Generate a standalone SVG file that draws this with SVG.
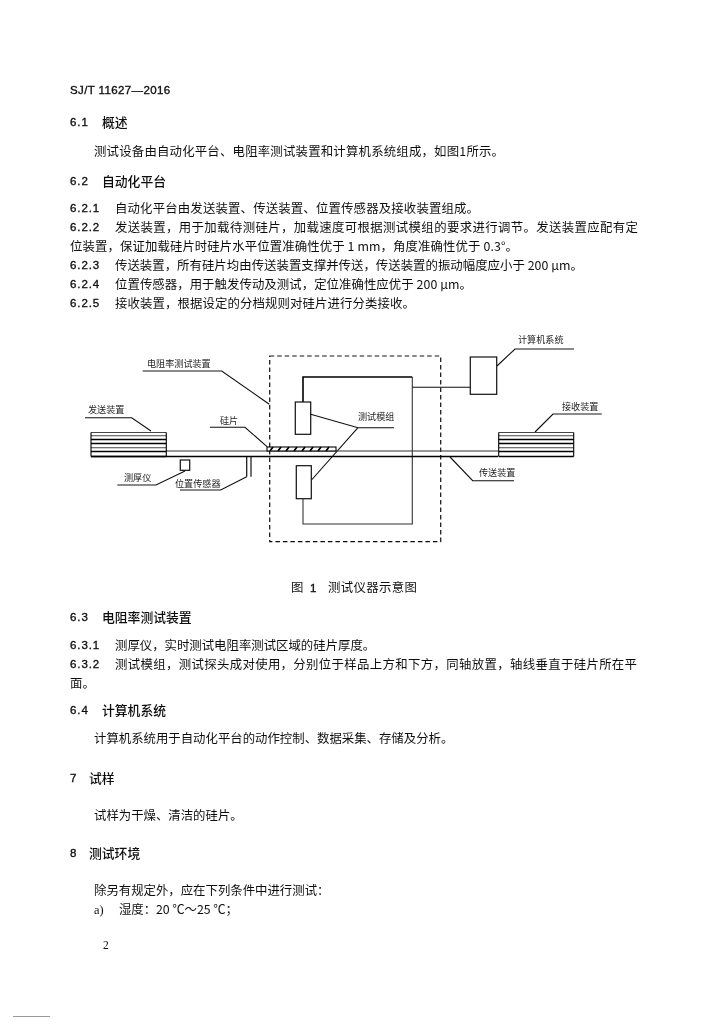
<svg xmlns="http://www.w3.org/2000/svg" width="724" height="1024" viewBox="0 0 724 1024">
<defs><filter id="scan" x="0" y="0" width="100%" height="100%"><feGaussianBlur stdDeviation="0.25"/></filter></defs>
<style>
text{font-family:"Noto Sans CJK SC","Liberation Sans",sans-serif;fill:#111}
.b{font-size:12.4px;font-weight:400}
.h{font-size:12.8px;font-weight:500}
.n{font-family:"Liberation Sans","Noto Sans CJK SC",sans-serif;font-size:11.5px;letter-spacing:.9px;stroke:#111;stroke-width:.35}
.l{font-size:9.1px;fill:#222}
.s{fill:none;stroke:#111;stroke-width:1.1}
.t{fill:none;stroke:#000;stroke-width:1.6}
.g{fill:none;stroke:#333;stroke-width:1.1}
.f{fill:#fff;stroke:#111;stroke-width:1.2}
.k{fill:none;stroke:#000;stroke-width:1.7}
.m{fill:none;stroke:#444;stroke-width:1.1}
</style>
<rect width="724" height="1024" fill="#fff"/>
<g filter="url(#scan)">
<g id="page-text">
<text class="n" x="70" y="94" textLength="101">SJ/T 11627—2016</text>
<text class="n" x="70" y="126">6.1</text><text class="h" x="102" y="127">概述</text>
<text class="b" x="94" y="156" textLength="410">测试设备由自动化平台、电阻率测试装置和计算机系统组成，如图1所示。</text>
<text class="n" x="70" y="185">6.2</text><text class="h" x="102" y="186">自动化平台</text>
<text class="n" x="70" y="212">6.2.1</text><text class="b" x="115" y="213" textLength="364">自动化平台由发送装置、传送装置、位置传感器及接收装置组成。</text>
<text class="n" x="70" y="231">6.2.2</text><text class="b" x="115" y="232" textLength="523">发送装置，用于加载待测硅片，加载速度可根据测试模组的要求进行调节。发送装置应配有定</text>
<text class="b" x="70" y="251" textLength="448">位装置，保证加载硅片时硅片水平位置准确性优于 1 mm，角度准确性优于 0.3°。</text>
<text class="n" x="70" y="269">6.2.3</text><text class="b" x="115" y="270" textLength="468">传送装置，所有硅片均由传送装置支撑并传送，传送装置的振动幅度应小于 200 μm。</text>
<text class="n" x="70" y="288">6.2.4</text><text class="b" x="115" y="289" textLength="357">位置传感器，用于触发传动及测试，定位准确性应优于 200 μm。</text>
<text class="n" x="70" y="307">6.2.5</text><text class="b" x="115" y="308" textLength="300">接收装置，根据设定的分档规则对硅片进行分类接收。</text>
<text class="b" x="291" y="592">图</text><text class="n" x="310" y="592">1</text><text class="b" x="328" y="592" textLength="89">测试仪器示意图</text>
<text class="n" x="70" y="621">6.3</text><text class="h" x="102" y="622">电阻率测试装置</text>
<text class="n" x="70" y="649">6.3.1</text><text class="b" x="115" y="650">测厚仪，实时测试电阻率测试区域的硅片厚度。</text>
<text class="n" x="70" y="668">6.3.2</text><text class="b" x="115" y="669" textLength="522">测试模组，测试探头成对使用，分别位于样品上方和下方，同轴放置，轴线垂直于硅片所在平</text>
<text class="b" x="70" y="688">面。</text>
<text class="n" x="70" y="714">6.4</text><text class="h" x="102" y="715">计算机系统</text>
<text class="b" x="94" y="743">计算机系统用于自动化平台的动作控制、数据采集、存储及分析。</text>
<text class="n" x="70" y="782">7</text><text class="h" x="89" y="783">试样</text>
<text class="b" x="94" y="820">试样为干燥、清洁的硅片。</text>
<text class="n" x="70" y="857">8</text><text class="h" x="89" y="858">测试环境</text>
<text class="b" x="94" y="895">除另有规定外，应在下列条件中进行测试：</text>
<text class="b" x="94" y="914" style="font-family:'Liberation Serif',serif">a)</text><text class="b" x="119" y="914" textLength="119">湿度：20 ℃～25 ℃；</text>
<text x="103" y="949" style="font-family:'Liberation Serif',serif;font-size:11.5px">2</text>
</g>
<g id="connectors">
<path class="t" d="M303 402V377H412.3"/>
<path class="g" d="M412.3 377V524H303V498.7"/>
<path class="s" d="M412.3 387.3H470.3"/>
<path class="s" d="M142.7 371H221.7L269.3 404.3"/>
<path class="s" d="M85 417.7H131.7L151 431"/>
<path class="s" d="M210 427.3H245L267 446.7"/>
<path class="s" d="M310.7 414.3L358 427.7H394M311.5 480L358 427.7"/>
<path class="s" d="M497 366L515 349H574"/>
<path class="s" d="M535 432L553 414H601.7"/>
<path class="s" d="M450 457L472.7 480.7H514"/>
<path class="s" d="M117.3 485H156L185 471"/>
<path class="s" d="M180 490H220.7L246.7 476.7"/>
</g>
<g id="test-device"><rect x="269.7" y="356" width="171" height="185.7" fill="none" stroke="#111" stroke-width="1.2" stroke-dasharray="4.5 3"/><text class="l" x="147" y="367">电阻率测试装置</text></g>
<g id="conveyor"><path d="M166 451H498" fill="none" stroke="#333" stroke-width="1.1"/><path d="M91 456.5H498" fill="none" stroke="#000" stroke-width="1.6"/><text class="l" x="479" y="476">传送装置</text></g>
<g id="sender"><path class="m" d="M91 432.5H166.3M91 435.8H166.3M91 447.8H166.3"/><path class="k" d="M91 439.5H166.3M91 443.5H166.3M91 451.5H166.3M91 456.5H166.3"/><path fill="none" stroke="#000" stroke-width="1.1" d="M91 432.5V456.5M166.3 432.5V456.5"/><text class="l" x="88" y="413">发送装置</text></g>
<g id="receiver"><path class="m" d="M498.7 432.5H573.7M498.7 435.8H573.7M498.7 447.8H573.7"/><path class="k" d="M498.7 439.5H573.7M498.7 443.5H573.7M498.7 451.5H573.7M498.7 456.5H573.7"/><path fill="none" stroke="#000" stroke-width="1.1" d="M498.7 432.5V456.5M573.7 432.5V456.5"/><text class="l" x="562" y="410">接收装置</text></g>
<g id="wafer"><rect x="267" y="447" width="69" height="4" fill="#fff" stroke="#000" stroke-width="1.1"/><path stroke="#000" stroke-width="1.8" d="M270 451L273 447M278 451L281 447M286 451L289 447M294 451L297 447M302 451L305 447M310 451L313 447M318 451L321 447M326 451L329 447"/><text class="l" x="220" y="424">硅片</text></g>
<g id="probe-top"><rect class="f" x="295.3" y="402" width="15.4" height="32.3"/></g>
<g id="probe-bottom"><rect class="f" x="296.3" y="465.7" width="15" height="33"/></g>
<g id="test-module"><text class="l" x="358" y="420">测试模组</text></g>
<g id="computer"><rect class="f" x="470.3" y="357" width="26.4" height="37.3"/><text class="l" x="518" y="343">计算机系统</text></g>
<g id="thickness-gauge"><rect class="f" x="180.3" y="460" width="9.4" height="10.3"/><text class="l" x="124" y="481">测厚仪</text></g>
<g id="position-sensor"><path d="M246.7 457V476.7M251 457V476.7" fill="none" stroke="#111" stroke-width="1.2"/><text class="l" x="175" y="487">位置传感器</text></g>
<path d="M13 1016.5H50" stroke="#999" stroke-width="1"/>
</g>
</svg>
